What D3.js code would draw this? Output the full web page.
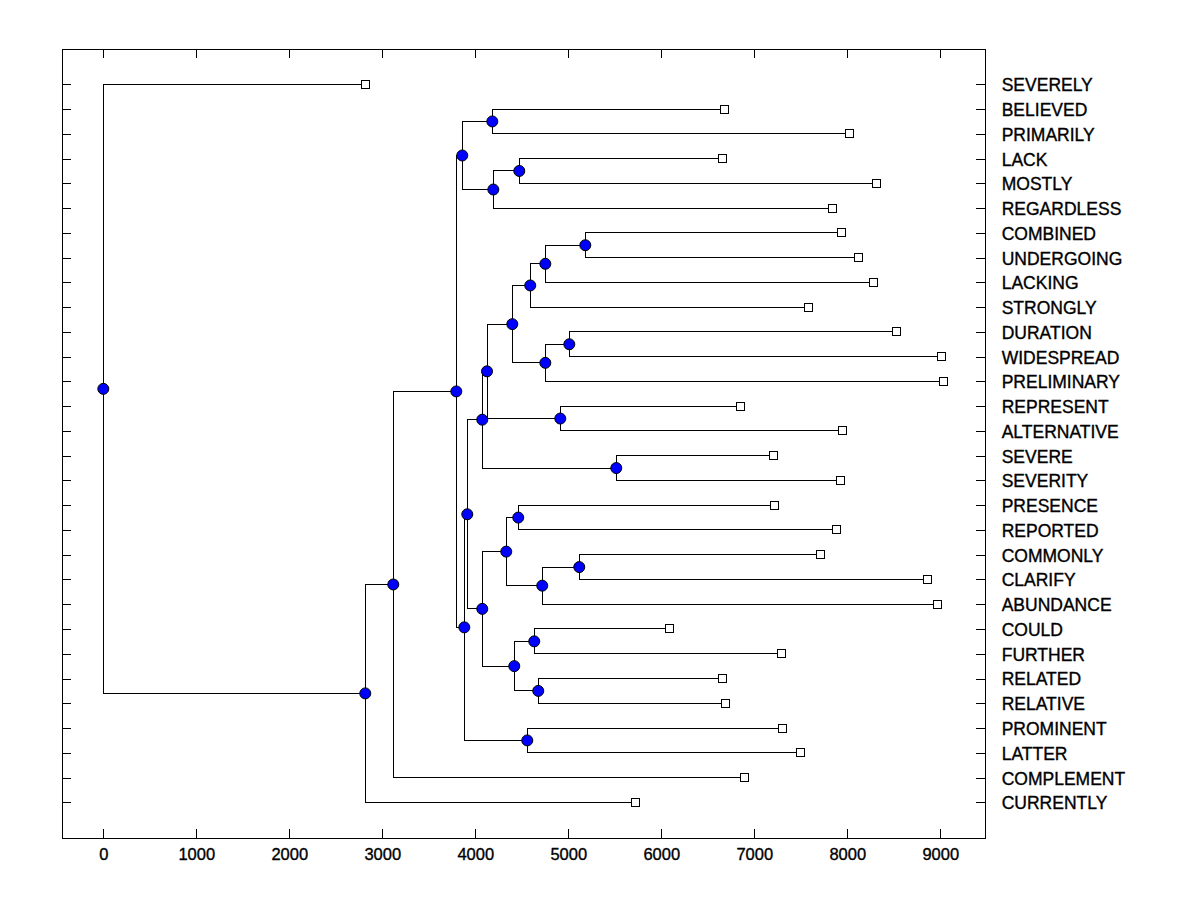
<!DOCTYPE html>
<html>
<head>
<meta charset="utf-8">
<script src="https://cdn.jsdelivr.net/npm/d3@7/dist/d3.min.js"></script>
<style>
  html, body { margin: 0; padding: 0; background: #fff; }
  svg { display: block; }
  text { font-family: "Liberation Sans", Arial, sans-serif; fill: #000; }
</style>
</head>
<body>
<svg id="chart" width="1200" height="900"></svg>
<script>
// ---- data ----
const labels = ["SEVERELY","BELIEVED","PRIMARILY","LACK","MOSTLY","REGARDLESS","COMBINED","UNDERGOING","LACKING","STRONGLY","DURATION","WIDESPREAD","PRELIMINARY","REPRESENT","ALTERNATIVE","SEVERE","SEVERITY","PRESENCE","REPORTED","COMMONLY","CLARIFY","ABUNDANCE","COULD","FURTHER","RELATED","RELATIVE","PROMINENT","LATTER","COMPLEMENT","CURRENTLY"];
const leafX = [2817,6677,8022,6656,8312,7839,7935,8118,8280,7581,8527,9011,9032,6849,7946,7204,7925,7215,7882,7710,8860,8968,6086,7290,6656,6688,7301,7495,6892,5720];

const nodeIds   = ["root","A","B","C","D","E","F","G","H","K","I","M","N","Y","AA","BB","Z","CC","P","Q","J","R","T","U","V","S","W","X","L"];
const nodeX     = [0,2817,3118,3796,3860,3882,4183,4194,4473,3914,4075,4126,4398,4591,4753,5183,4753,5011,4914,5516,4075,4333,4462,4720,5118,4419,4634,4677,4559];
const nodeChild1 = ["SEVERELY","B","C","D","F","K","BELIEVED","H","LACK","I","M","N","Y","AA","BB","COMBINED","CC","DURATION","REPRESENT","SEVERE","R","T","PRESENCE","V","COMMONLY","W","COULD","RELATED","PROMINENT"];
const nodeChild2 = ["A","CURRENTLY","COMPLEMENT","E","G","L","PRIMARILY","REGARDLESS","MOSTLY","J","Q","P","Z","STRONGLY","LACKING","UNDERGOING","PRELIMINARY","WIDESPREAD","ALTERNATIVE","SEVERITY","S","U","REPORTED","ABUNDANCE","CLARIFY","X","FURTHER","RELATIVE","LATTER"];

const xTicks = [0,1000,2000,3000,4000,5000,6000,7000,8000,9000];

// ---- layout ----
const svg = d3.select("#chart");
const pLeft = 62.3, pRight = 985, pTop = 49.3, pBottom = 838.3;

const x = d3.scaleLinear().domain([-441, 9481]).range([pLeft, pRight]);
const y = d3.scaleLinear().domain([0, labels.length - 1]).range([84.3, 802.3]);

// build tree
const map = {};
labels.forEach((name, i) => { map[name] = { name, leaf: true, x: leafX[i], row: i }; });
nodeIds.forEach((id, i) => { map[id] = { name: id, leaf: false, x: nodeX[i], c1: nodeChild1[i], c2: nodeChild2[i] }; });
function rowOf(n) {
  if (n.row !== undefined) return n.row;
  n.row = (rowOf(map[n.c1]) + rowOf(map[n.c2])) / 2;
  return n.row;
}
nodeIds.forEach(id => rowOf(map[id]));

// frame
svg.append("rect")
  .attr("x", pLeft).attr("y", pTop)
  .attr("width", pRight - pLeft).attr("height", pBottom - pTop)
  .attr("fill", "none").attr("stroke", "#000").attr("stroke-width", 1)
  .attr("shape-rendering", "crispEdges");

// axes
const gB = svg.append("g").attr("transform", `translate(0,${pBottom})`)
  .call(d3.axisBottom(x).tickValues(xTicks).tickSize(-9).tickPadding(10).tickFormat(d3.format("d")));
const gT = svg.append("g").attr("transform", `translate(0,${pTop})`)
  .call(d3.axisTop(x).tickValues(xTicks).tickSize(-9).tickFormat(""));
const rows = d3.range(labels.length);
const gL = svg.append("g").attr("transform", `translate(${pLeft},0)`)
  .call(d3.axisLeft(y).tickValues(rows).tickSize(-9).tickFormat(""));
const gR = svg.append("g").attr("transform", `translate(${pRight},0)`)
  .call(d3.axisRight(y).tickValues(rows).tickSize(-9).tickPadding(16.7).tickFormat(i => labels[i]));

[gB, gT, gL, gR].forEach(g => {
  g.select(".domain").remove();
  g.selectAll(".tick line").attr("stroke", "#000").attr("shape-rendering", "crispEdges");
});
gB.selectAll("text").attr("font-size", 16.5).attr("font-family", "Liberation Sans, Arial, sans-serif")
  .attr("fill", "#000").attr("stroke", "#000").attr("stroke-width", 0.35);
gR.selectAll("text").attr("font-size", 17.5).attr("font-family", "Liberation Sans, Arial, sans-serif")
  .attr("fill", "#000").attr("stroke", "#000").attr("stroke-width", 0.35).attr("dy", "0.37em");

// links
const links = svg.append("g").attr("fill", "none").attr("stroke", "#000").attr("stroke-width", 1)
  .attr("shape-rendering", "crispEdges");
nodeIds.forEach(id => {
  const n = map[id];
  const a = map[n.c1], b = map[n.c2];
  links.append("path").attr("d",
    `M${x(a.x)},${y(a.row)}H${x(n.x)}V${y(b.row)}H${x(b.x)}`);
});

// internal nodes
svg.append("g").selectAll("circle")
  .data(nodeIds.map(id => map[id]))
  .join("circle")
  .attr("cx", d => x(d.x)).attr("cy", d => y(d.row)).attr("r", 5.5)
  .attr("fill", "#0000ff").attr("stroke", "#000").attr("stroke-width", 1);

// leaves
svg.append("g").selectAll("rect")
  .data(labels.map(nm => map[nm]))
  .join("rect")
  .attr("x", d => x(d.x) - 4).attr("y", d => y(d.row) - 4)
  .attr("width", 8).attr("height", 8)
  .attr("fill", "#fff").attr("stroke", "#000").attr("stroke-width", 1)
  .attr("shape-rendering", "crispEdges");
</script>
</body>
</html>
